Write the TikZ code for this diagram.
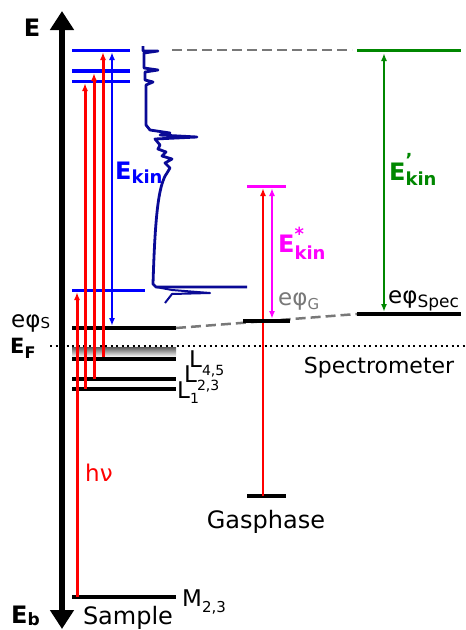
\documentclass[tikz,border=0pt]{standalone}
\usepackage{fontspec}
\setmainfont{DejaVu Sans}
\usetikzlibrary{arrows.meta,positioning,calc}
\definecolor{lvlblue}{RGB}{0,0,255}
\definecolor{specblue}{RGB}{10,10,150}
\definecolor{hvred}{RGB}{255,0,0}
\definecolor{kingreen}{RGB}{0,135,0}
\definecolor{kinmag}{RGB}{255,0,255}
\definecolor{wfgray}{RGB}{120,120,120}
\newcommand{\sz}[1]{\fontsize{#1}{#1}\selectfont}
\newcommand{\lo}[3]{\raisebox{-#1pt}{\sz{#2}#3}}
\newcommand{\hilo}[5]{\rlap{\raisebox{#1pt}{\sz{#2}#3}}\raisebox{-#4pt}{\sz{#2}#5}}

\begin{document}
\begin{tikzpicture}[x=1pt,y=-1pt,
  lbl/.style={inner sep=0pt, font=\sz{23}},
  blbl/.style={inner sep=0pt, font=\bfseries\sz{24}},
  kinlbl/.style={inner sep=0pt, font=\bfseries\sz{24}},
  level/.style={line width=4.5pt},
  thinlevel/.style={line width=3pt},
  photon/.style={hvred, line width=3pt, -{Latex[length=8pt,width=6pt]}},
  kinarrow/.style={line width=2.2pt, {Latex[length=8pt,width=6pt]}-{Latex[length=8pt,width=6pt]}},
  wfline/.style={wfgray, line width=2.5pt, dash pattern=on 10pt off 5pt}]

\useasboundingbox (0,0) rectangle (466,630);

% energy axis
\coordinate (axbot) at (62,629);
\coordinate (axtop) at (62,11);
\draw[line width=6.5pt, {Triangle[length=19pt,width=23pt]}-{Triangle[length=19pt,width=23pt]}] (axbot) -- (axtop);
\node[blbl] (eaxis) at (32,28) {E};
\node[blbl, anchor=base west] (ebind) at (11,623) {E\lo{2}{17}{b}};

% Fermi level and occupied band
\coordinate (fermi-w) at (50,346);
\coordinate (fermi-e) at (466,346);
\shade[top color=black!65, bottom color=white] (72,347) rectangle (176,357);
\draw[line width=2.2pt, dash pattern=on 2.2pt off 3.3pt] (fermi-w) -- (fermi-e);
\node[blbl, font=\bfseries\sz{21}, anchor=base west] (efermi) at (10,353) {E\lo{5}{16}{F}};

% sample levels
\foreach \nm/\y in {phis/328,lfive/359,lthree/379,lone/389,mthree/597}{
  \coordinate (\nm-w) at (72,\y);
  \coordinate (\nm-e) at (176,\y);
  \draw[level] (\nm-w) -- (\nm-e);
}
\node[lbl, anchor=base west] (phislbl) at (11,327) {eφ\lo{1}{15}{S}};
\node[lbl, anchor=base west] (l45) at (189,367) {L\lo{8}{14}{4,5}};
\node[lbl, anchor=base west] (l23) at (184,382) {L\lo{8}{14}{2,3}};
\node[lbl, anchor=base west] (l1) at (177,398) {L\lo{5}{14}{1}};
\node[lbl, anchor=base west] (m23) at (182,606) {M\lo{6}{15}{2,3}};
\node[lbl, font=\sz{24}, anchor=base] (sample) at (128,624) {Sample};

% photoelectron final states
\foreach \nm/\y/\xe/\lw in {fone/50/130/3,ftwo/71/130/4,fthree/81/130/3,ffour/290/145/3}{
  \coordinate (\nm-w) at (72,\y);
  \coordinate (\nm-e) at (\xe,\y);
  \draw[lvlblue, line width=\lw pt] (\nm-w) -- (\nm-e);
}

% excitations
\foreach \nm/\x/\ya/\yb in {pa/77/597/292,pb/85/389/83,pc/94/379/73,pd/103/357/52}{
  \coordinate (\nm-s) at (\x,\ya);
  \coordinate (\nm-t) at (\x,\yb);
  \draw[photon] (\nm-s) -- (\nm-t);
}
\node[lbl, hvred, anchor=base west] (hnu) at (85,481) {hν};

% kinetic energy in the sample frame
\coordinate (ekin-b) at (112,326);
\coordinate (ekin-t) at (112,52);
\draw[kinarrow, lvlblue] (ekin-b) -- (ekin-t);
\node[kinlbl, lvlblue, anchor=base west] (ekin) at (115,179) {E\lo{4}{18}{kin}};

% measured spectrum
\draw[specblue, line width=2.8pt, line join=round]
  (143,46) -- (143,51) -- (158,51) -- (144,53) -- (144,68) -- (158,70) -- (145,72)
  -- (145,80) -- (153,82) -- (146,85) -- (146,125) -- (150,130) -- (170,133)
  -- (160,135) -- (197,137) -- (155,139) -- (160,145) -- (158,149) -- (166,152)
  -- (162,156) -- (172,159) -- (165,163) -- (170,168) -- (167,173)
  .. controls (158,185) and (155,220) .. (153,284) -- (156,287) -- (247,287);
\draw[specblue, line width=2pt, line join=round]
  (156,287) -- (172,290) -- (210,293) -- (172,294) -- (165,303);

% gas phase
\coordinate (gas-w) at (247,496);
\coordinate (gas-e) at (286,496);
\draw[level] (gas-w) -- (gas-e);
\node[lbl, font=\sz{24}, anchor=base] (gaslbl) at (266,528) {Gasphase};
\coordinate (gfin-w) at (247,186);
\coordinate (gfin-e) at (286,186);
\draw[thinlevel, kinmag] (gfin-w) -- (gfin-e);
\coordinate (gph-s) at (263,496);
\coordinate (gph-t) at (263,188);
\draw[photon, line width=2.5pt] (gph-s) -- (gph-t);

% vacuum levels
\coordinate (vacg-w) at (243,321);
\coordinate (vacg-e) at (290,321);
\coordinate (spec-w) at (357,314);
\coordinate (spec-e) at (461,314);
\draw[wfline] (phis-e) -- (spec-w);
\draw[line width=3.5pt] (vacg-w) -- (vacg-e);
\draw[level] (spec-w) -- (spec-e);
\coordinate (gkin-t) at (272,188);
\coordinate (gkin-b) at (272,319);
\draw[kinarrow, kinmag] (gkin-t) -- (gkin-b);
\node[kinlbl, kinmag, anchor=base west] (ekinstar) at (278,252) {E\hilo{12}{18}{*}{7}{kin}};
\node[lbl, wfgray, anchor=base west] (phiglbl) at (278,305) {eφ\lo{4}{15}{G}};
\node[lbl, anchor=base west] (phispec) at (388,303) {eφ\lo{4}{17}{Spec}};
\node[lbl, font=\sz{22}, anchor=base] (spectro) at (379,373) {Spectrometer};

% spectrometer frame
\coordinate (sfin-w) at (357,50);
\coordinate (sfin-e) at (461,50);
\coordinate (vac-w) at (172,50);
\coordinate (vac-e) at (352,50);
\draw[wfline] (vac-w) -- (vac-e);
\draw[thinlevel, kingreen] (sfin-w) -- (sfin-e);
\coordinate (skin-t) at (384,53);
\coordinate (skin-b) at (384,312);
\draw[kinarrow, kingreen] (skin-t) -- (skin-b);
\node[kinlbl, kingreen, anchor=base west] (ekinprime) at (389,180) {E\hilo{14}{18}{'}{5}{kin}};
\end{tikzpicture}
\end{document}
